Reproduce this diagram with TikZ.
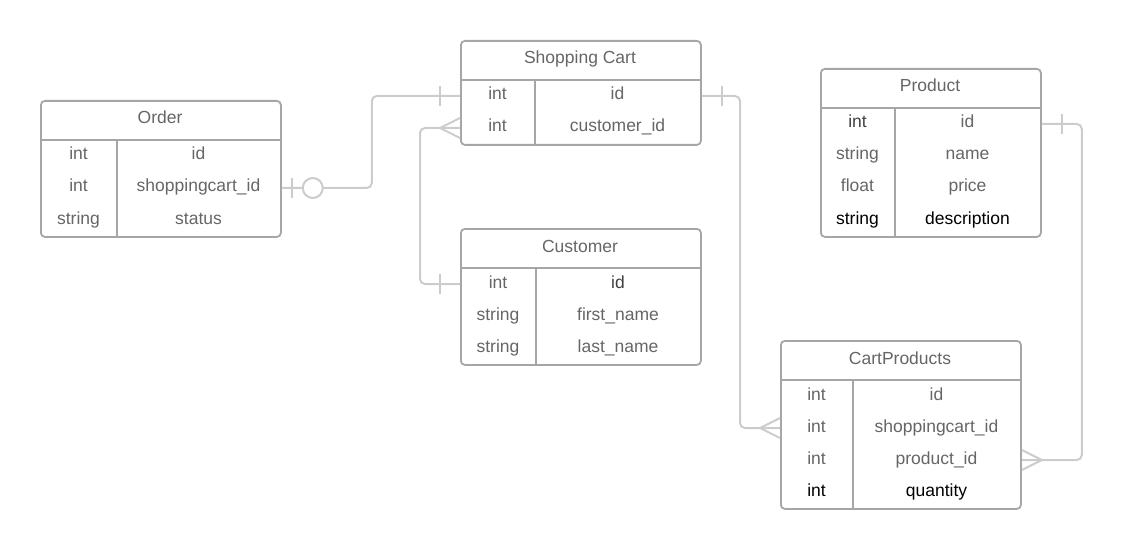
\documentclass[tikz,border=0pt]{standalone}
\usepackage{fontspec}
\setmainfont{Liberation Sans}
\definecolor{bordergray}{HTML}{A6A6A6}
\definecolor{conngray}{HTML}{CCCCCC}
\definecolor{txtgray}{HTML}{666666}
\tikzset{
  tbl/.style={draw=bordergray, line width=1.8pt, rounded corners=4pt, anchor=north west, inner sep=0pt, fill=white},
  tblline/.style={draw=bordergray, line width=1.8pt},
  txt/.style={anchor=base, inner sep=0pt, text=txtgray, font=\fontsize{17.5}{20}\selectfont},
  dark/.style={text=black},
  conn/.style={draw=conngray, line width=2pt, rounded corners=5pt},
  mark1/.style={draw=conngray, line width=2pt},
}
\begin{document}
\begin{tikzpicture}[x=1pt,y=-1pt]
\useasboundingbox (0,0) rectangle (1121,548);

% ---------- Order ----------
\node[tbl, minimum width=240pt, minimum height=136pt] (order) at (40,100) {};
\draw[tblline] (40,140) -- (280,140);
\draw[tblline] (117,140) -- (117,236);
\node[txt] (order-t) at (160,124) {Order};
\node[txt] (order-a1) at (78.5,160) {int};
\node[txt] (order-b1) at (198.5,160) {id};
\node[txt] (order-a2) at (78.5,192) {int};
\node[txt] (order-b2) at (198.5,192) {shoppingcart\_id};
\node[txt] (order-a3) at (78.5,224) {string};
\node[txt] (order-b3) at (198.5,224) {status};
\coordinate (o2) at (160,188);

% ---------- Shopping Cart ----------
\node[tbl, minimum width=240pt, minimum height=104pt] (sc) at (460,40) {};
\draw[tblline] (460,80) -- (700,80);
\draw[tblline] (535,80) -- (535,144);
\node[txt] (sc-t) at (580,64) {Shopping Cart};
\node[txt] (sc-a1) at (497.5,100) {int};
\node[txt] (sc-b1) at (617.5,100) {id};
\node[txt] (sc-a2) at (497.5,132) {int};
\node[txt] (sc-b2) at (617.5,132) {customer\_id};
\coordinate (sc1) at (580,96);
\coordinate (sc2) at (580,128);

% ---------- Customer ----------
\node[tbl, minimum width=240pt, minimum height=136pt] (cust) at (460,228) {};
\draw[tblline] (460,268) -- (700,268);
\draw[tblline] (536,268) -- (536,364);
\node[txt] (cust-t) at (580,252) {Customer};
\node[txt] (cust-a1) at (498,288) {int};
\node[txt, text=black!75] (cust-b1) at (618,288) {id};
\node[txt] (cust-a2) at (498,320) {string};
\node[txt] (cust-b2) at (618,320) {first\_name};
\node[txt] (cust-a3) at (498,352) {string};
\node[txt] (cust-b3) at (618,352) {last\_name};
\coordinate (cu1) at (580,284);

% ---------- Product ----------
\node[tbl, minimum width=220pt, minimum height=168pt] (prod) at (820,68) {};
\draw[tblline] (820,108) -- (1040,108);
\draw[tblline] (895,108) -- (895,236);
\node[txt] (prod-t) at (930,92) {Product};
\node[txt, text=black!75] (prod-a1) at (857.5,128) {int};
\node[txt] (prod-b1) at (967.5,128) {id};
\node[txt] (prod-a2) at (857.5,160) {string};
\node[txt] (prod-b2) at (967.5,160) {name};
\node[txt] (prod-a3) at (857.5,192) {float};
\node[txt] (prod-b3) at (967.5,192) {price};
\node[txt, dark] (prod-a4) at (857.5,224) {string};
\node[txt, dark] (prod-b4) at (967.5,224) {description};
\coordinate (p1) at (930,124);

% ---------- CartProducts ----------
\node[tbl, minimum width=240pt, minimum height=168pt] (cart) at (780,340) {};
\draw[tblline] (780,380) -- (1020,380);
\draw[tblline] (853,380) -- (853,508);
\node[txt] (cart-t) at (900,364) {CartProducts};
\node[txt] (cart-a1) at (816.5,400) {int};
\node[txt] (cart-b1) at (936.5,400) {id};
\node[txt] (cart-a2) at (816.5,432) {int};
\node[txt] (cart-b2) at (936.5,432) {shoppingcart\_id};
\node[txt] (cart-a3) at (816.5,464) {int};
\node[txt] (cart-b3) at (936.5,464) {product\_id};
\node[txt, dark] (cart-a4) at (816.5,496) {int};
\node[txt, dark] (cart-b4) at (936.5,496) {quantity};
\coordinate (cp2) at (900,428);
\coordinate (cp3) at (900,460);

% ---------- Connectors ----------
% Order.shoppingcart_id -- ShoppingCart.id
\draw[conn] (order.east |- o2) -| ([xshift=90pt]order.east |- sc1) -- (sc.west |- sc1);
\draw[mark1] ([xshift=10pt]order.east |- o2) ++(0,-10) -- ++(0,20);
\node[circle, draw=conngray, line width=2pt, fill=white, minimum size=20pt, inner sep=0pt] (o2c) at ([xshift=31pt]order.east |- o2) {};
\draw[mark1] ([xshift=-20pt]sc.west |- sc1) ++(0,-10) -- ++(0,20);

% ShoppingCart.customer_id -- Customer.id
\draw[conn] (sc.west |- sc2) -| ([xshift=-40pt]sc.west |- cu1) -- (cust.west |- cu1);
\draw[mark1] ([yshift=-10pt]sc.west |- sc2) -- ([xshift=-20pt]sc.west |- sc2) -- ([yshift=10pt]sc.west |- sc2);
\draw[mark1] ([xshift=-20pt]cust.west |- cu1) ++(0,-10) -- ++(0,20);

% ShoppingCart.id -- CartProducts.shoppingcart_id
\draw[conn] (sc.east |- sc1) -| ([xshift=-40pt]cart.west |- cp2) -- (cart.west |- cp2);
\draw[mark1] ([xshift=20pt]sc.east |- sc1) ++(0,-10) -- ++(0,20);
\draw[mark1] ([yshift=-10pt]cart.west |- cp2) -- ([xshift=-20pt]cart.west |- cp2) -- ([yshift=10pt]cart.west |- cp2);

% Product.id -- CartProducts.product_id
\draw[conn] (prod.east |- p1) -| ([xshift=40pt]prod.east |- cp3) -- (cart.east |- cp3);
\draw[mark1] ([xshift=20pt]prod.east |- p1) ++(0,-10) -- ++(0,20);
\draw[mark1] ([yshift=-10pt]cart.east |- cp3) -- ([xshift=20pt]cart.east |- cp3) -- ([yshift=10pt]cart.east |- cp3);
\end{tikzpicture}
\end{document}
